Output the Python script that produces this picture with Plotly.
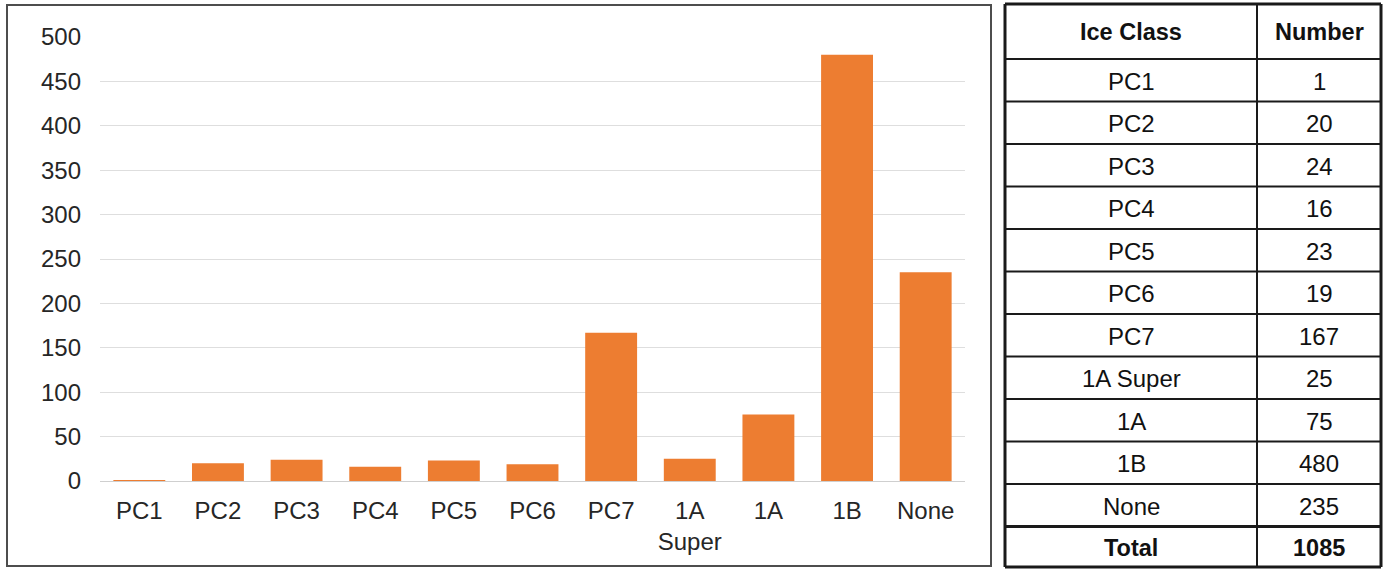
import plotly.graph_objects as go

# Vessel counts by ice class
categories = ["PC1", "PC2", "PC3", "PC4", "PC5", "PC6", "PC7", "1A Super", "1A", "1B", "None"]
counts = [1, 20, 24, 16, 23, 19, 167, 25, 75, 480, 235]
axis_labels = ["PC1", "PC2", "PC3", "PC4", "PC5", "PC6", "PC7", "1A<br>Super", "1A", "1B", "None"]
y_ticks = [0, 50, 100, 150, 200, 250, 300, 350, 400, 450, 500]
header = ["Ice Class", "Number"]
total_label = "Total"

W, H = 1383, 569
FONT = "Liberation Sans, Arial, sans-serif"
TEXT = "#262626"
LINE = "#1a1a1a"


def px_x(p):
    return p / W


def px_y(p):
    return 1 - p / H


fig = go.Figure()

fig.add_trace(go.Bar(
    x=categories,
    y=counts,
    marker=dict(color="#ED7D31", line=dict(width=0)),
    hoverinfo="x+y",
))

shapes = [
    # frame around the chart
    dict(type="rect", xref="paper", yref="paper",
         x0=px_x(7), x1=px_x(991), y0=px_y(566), y1=px_y(5),
         line=dict(color="#4d4d4d", width=2)),
]
annotations = []

# ---- summary table beside the chart (pixel layout) ----
t_left, t_mid, t_right = 1005, 1257, 1381
t_top, head_bottom, row_h, t_bottom = 4, 59, 42.5, 567

rows = [(c, str(v)) for c, v in zip(categories, counts)]
rows.append((total_label, str(sum(counts))))

# row boundaries
bounds = [t_top, head_bottom]
for i in range(len(rows) - 1):
    bounds.append(head_bottom + row_h * (i + 1))
bounds.append(t_bottom)

# horizontal rules
for k, yb in enumerate(bounds):
    is_edge = k in (0, len(bounds) - 1)
    is_total_top = k == len(bounds) - 2
    w = 3 if (is_edge or is_total_top) else 2
    shapes.append(dict(type="line", xref="paper", yref="paper",
                       x0=px_x(t_left), x1=px_x(t_right),
                       y0=px_y(yb), y1=px_y(yb),
                       line=dict(color=LINE, width=w)))
# vertical rules
for xv, w in ((t_left, 3), (t_mid, 2), (t_right, 3)):
    shapes.append(dict(type="line", xref="paper", yref="paper",
                       x0=px_x(xv), x1=px_x(xv),
                       y0=px_y(t_top), y1=px_y(t_bottom),
                       line=dict(color=LINE, width=w)))

c1 = (t_left + t_mid) / 2
c2 = (t_mid + t_right) / 2


def cell(x, y0, y1, text, bold=False):
    annotations.append(dict(
        xref="paper", yref="paper",
        x=px_x(x), y=px_y((y0 + y1) / 2 + 1),
        text=f"<b>{text}</b>" if bold else text,
        showarrow=False, xanchor="center", yanchor="middle",
        font=dict(family=FONT, size=24 if not bold else 23.5, color="#111111"),
    ))


cell(c1, bounds[0], bounds[1], header[0], bold=True)
cell(c2, bounds[0], bounds[1], header[1], bold=True)
for i, (name, num) in enumerate(rows):
    bold = i == len(rows) - 1
    cell(c1, bounds[i + 1], bounds[i + 2], name, bold)
    cell(c2, bounds[i + 1], bounds[i + 2], num, bold)

fig.update_layout(
    width=W,
    height=H,
    margin=dict(l=0, r=0, t=0, b=0, autoexpand=False),
    paper_bgcolor="white",
    plot_bgcolor="white",
    showlegend=False,
    bargap=0.34,
    font=dict(family=FONT, size=24, color=TEXT),
    xaxis=dict(
        domain=[px_x(100), px_x(965)],
        tickmode="array",
        tickvals=categories,
        ticktext=axis_labels,
        showgrid=False,
        showline=True,
        linecolor="#cfcfcf",
        linewidth=1,
        ticks="",
        ticklabelstandoff=8,
        tickfont=dict(family=FONT, size=24, color=TEXT),
        automargin=False,
        fixedrange=True,
    ),
    yaxis=dict(
        domain=[px_y(481), px_y(37)],
        range=[0, 500],
        tickvals=y_ticks,
        showgrid=True,
        gridcolor="#dedede",
        gridwidth=1,
        zeroline=False,
        showline=False,
        ticks="",
        ticklabelstandoff=18,
        tickfont=dict(family=FONT, size=24, color=TEXT),
        automargin=False,
        fixedrange=True,
    ),
    shapes=shapes,
    annotations=annotations,
)

fig.write_html("out.html")
